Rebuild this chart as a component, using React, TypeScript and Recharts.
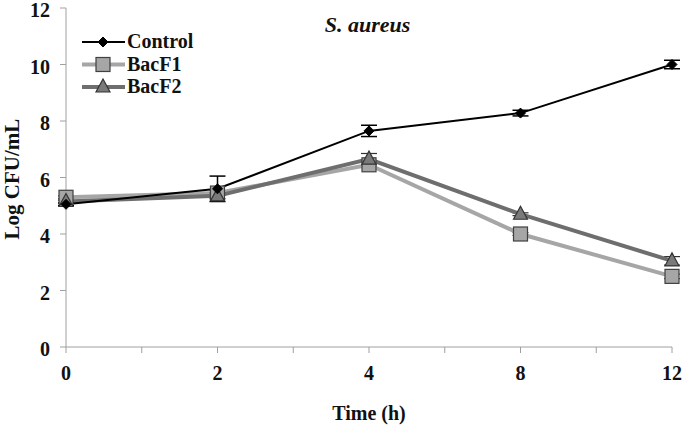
import React from 'react';
import { LineChart, Line, XAxis, YAxis, ErrorBar } from 'recharts';

const times = ['0', '2', '4', '8', '12'];
const control = [5.05, 5.6, 7.65, 8.28, 10.0];
const controlErr = [0.05, 0.45, 0.2, 0.1, 0.15];
const bacF1 = [5.3, 5.45, 6.45, 4.0, 2.5];
const bacF1Err = [0.05, 0.08, 0.1, 0.05, 0.08];
const bacF2 = [5.15, 5.35, 6.65, 4.7, 3.05];
const bacF2Err = [0.05, 0.1, 0.2, 0.05, 0.15];
const yTicks = [0, 2, 4, 6, 8, 10, 12];
const xTicks = [0, 0.5, 1, 1.5, 2, 2.5, 3, 3.5, 4];

const data = times.map((t, i) => ({
  idx: i,
  control: control[i],
  controlErr: controlErr[i],
  bacF1: bacF1[i],
  bacF1Err: bacF1Err[i],
  bacF2: bacF2[i],
  bacF2Err: bacF2Err[i],
}));

const font = '"Liberation Serif", "Times New Roman", serif';
const axisGray = '#a0a0a0';

function diamond(cx: number, cy: number, key?: string) {
  const r = 5;
  return (
    <path key={key} d={`M${cx},${cy - r}L${cx + r},${cy}L${cx},${cy + r}L${cx - r},${cy}Z`} fill="#000" stroke="#000" />
  );
}
function square(cx: number, cy: number, key?: string) {
  return <rect key={key} x={cx - 7} y={cy - 7} width={14} height={14} fill="#a6a6a6" stroke="#404040" strokeWidth={1.2} />;
}
function triangle(cx: number, cy: number, key?: string) {
  return (
    <path key={key} d={`M${cx},${cy - 8}L${cx + 7},${cy + 5}L${cx - 7},${cy + 5}Z`} fill="#7a7a7a" stroke="#333" strokeWidth={1.2} />
  );
}

const legendItems = [
  { name: 'Control', color: '#000', width: 2, marker: diamond },
  { name: 'BacF1', color: '#a6a6a6', width: 4, marker: square },
  { name: 'BacF2', color: '#6e6e6e', width: 4, marker: triangle },
];

function LegendBox() {
  return (
    <svg width={210} height={90} style={{ position: 'absolute', left: 80, top: 28, overflow: 'visible' }}>
      {legendItems.map((it, i) => {
        const y = 14 + i * 22.5;
        return (
          <g key={it.name}>
            <line x1={2} x2={45} y1={y} y2={y} stroke={it.color} strokeWidth={it.width} />
            {it.marker(23, y)}
            <text x={47} y={y + 6} fontFamily={font} fontWeight="bold" fontSize={20} fill="#111">
              {it.name}
            </text>
          </g>
        );
      })}
    </svg>
  );
}

export default function App() {
  return (
    <div style={{ position: 'absolute', left: 0, top: 0, width: 685, height: 429, background: '#fff', fontFamily: font }}>
      <LineChart
        width={685}
        height={429}
        data={data}
        margin={{ top: 8, right: 13, left: 0, bottom: 0 }}
        style={{ fontFamily: font }}
      >
        <XAxis
          dataKey="idx"
          type="number"
          domain={[0, 4]}
          ticks={xTicks}
          interval={0}
          tickFormatter={(v: number) => (Number.isInteger(v) ? times[v] : '')}
          stroke={axisGray}
          tickSize={6}
          tick={{ fill: '#111', fontFamily: font, fontWeight: 'bold', fontSize: 20, dy: 11 }}
          height={82}
          label={{ value: 'Time (h)', position: 'insideBottom', offset: 9, fill: '#111', fontFamily: font, fontWeight: 'bold', fontSize: 20 }}
        />
        <YAxis
          domain={[0, 12]}
          ticks={yTicks}
          interval={0}
          width={66}
          stroke={axisGray}
          tickSize={6}
          tick={{ fill: '#111', fontFamily: font, fontWeight: 'bold', fontSize: 20, dx: -8, dy: 2 }}
          label={{ value: 'Log CFU/mL', angle: -90, position: 'insideLeft', offset: 12, dy: 62, fill: '#111', fontFamily: font, fontWeight: 'bold', fontSize: 21 }}
        />
        <Line
          dataKey="bacF1"
          stroke="#a6a6a6"
          strokeWidth={4}
          isAnimationActive={false}
          dot={(p: any) => square(p.cx, p.cy, `s${p.index}`)}
        >
          <ErrorBar dataKey="bacF1Err" direction="y" width={8} stroke="#444" strokeWidth={1.2} />
        </Line>
        <Line
          dataKey="bacF2"
          stroke="#6e6e6e"
          strokeWidth={4}
          isAnimationActive={false}
          dot={(p: any) => triangle(p.cx, p.cy, `t${p.index}`)}
        >
          <ErrorBar dataKey="bacF2Err" direction="y" width={8} stroke="#333" strokeWidth={1.2} />
        </Line>
        <Line
          dataKey="control"
          stroke="#000"
          strokeWidth={2}
          isAnimationActive={false}
          dot={(p: any) => diamond(p.cx, p.cy, `d${p.index}`)}
        >
          <ErrorBar dataKey="controlErr" direction="y" width={8} stroke="#000" strokeWidth={1.5} />
        </Line>
      </LineChart>
      <LegendBox />
      <div
        style={{
          position: 'absolute',
          left: 300,
          top: 12,
          width: 135,
          textAlign: 'center',
          fontFamily: font,
          fontWeight: 'bold',
          fontStyle: 'italic',
          fontSize: 22,
          color: '#111',
        }}
      >
        S. aureus
      </div>
    </div>
  );
}
